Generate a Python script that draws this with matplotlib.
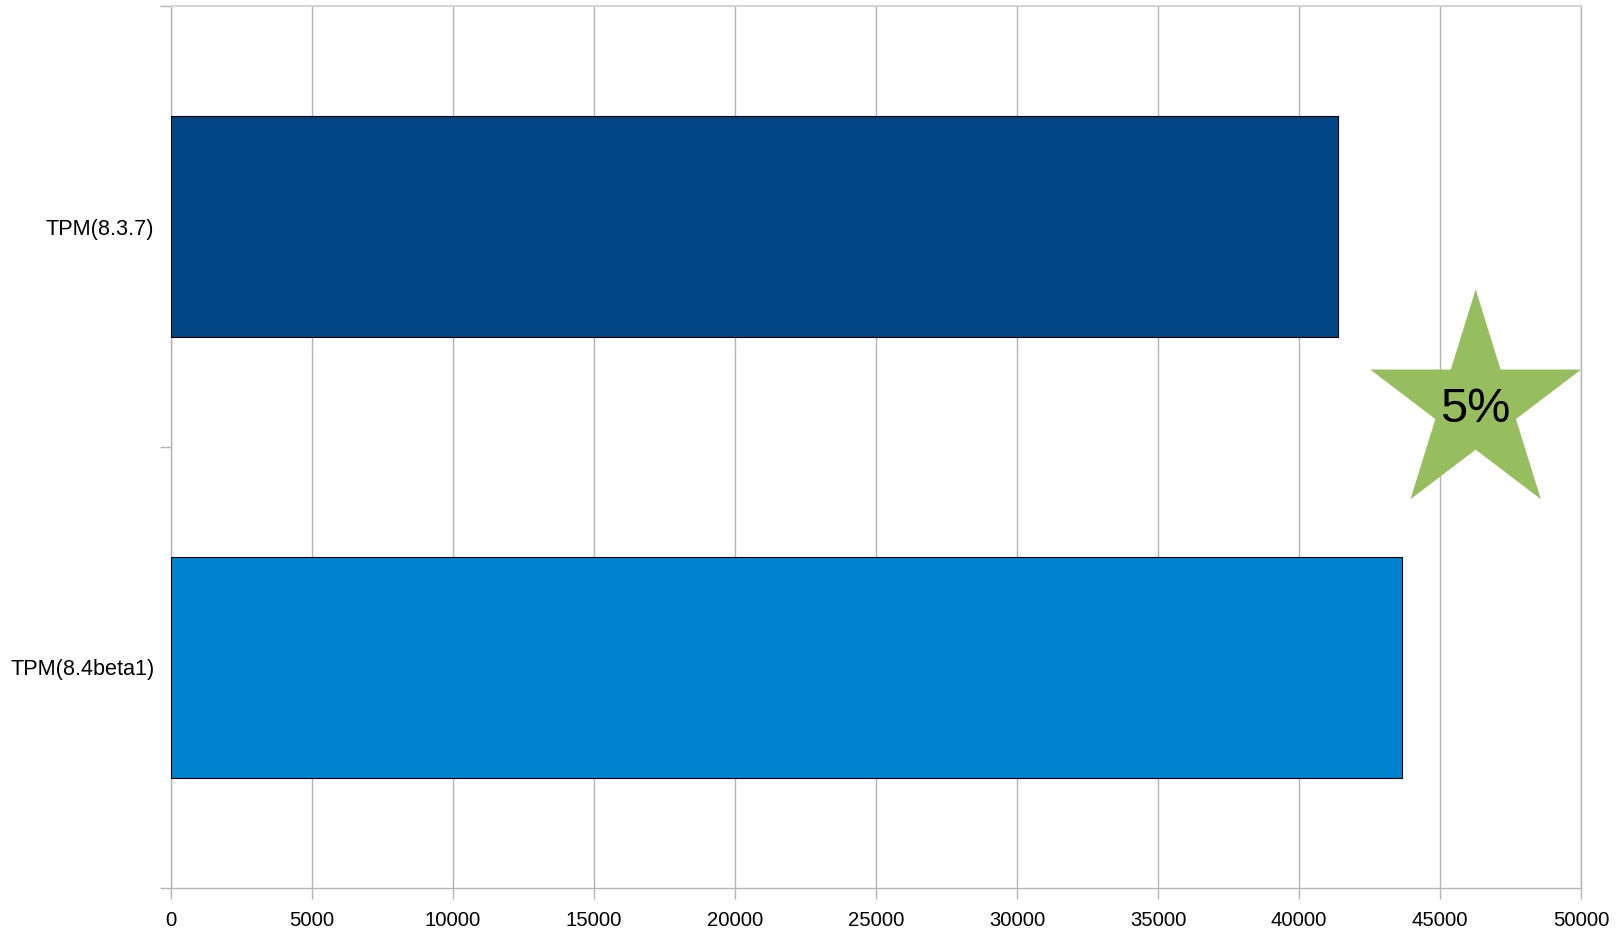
import numpy as np
import matplotlib
matplotlib.use("Agg")
import matplotlib.pyplot as plt
from matplotlib.patches import Polygon

plt.rcParams['font.family'] = ['Liberation Sans', 'DejaVu Sans']

# data
labels = ["TPM(8.3.7)", "TPM(8.4beta1)"]
tpm = [41370, 43650]
bar_colors = ["#004586", "#0084d1"]
x_ticks = [0, 5000, 10000, 15000, 20000, 25000, 30000, 35000, 40000, 45000, 50000]
badge_text = "5%"

grid_col = "#b3b3b3"

fig = plt.figure(figsize=(16.22, 9.31), dpi=100)
ax = fig.add_axes([171 / 1622, 43 / 931, 1410 / 1622, 882 / 931])

y = np.arange(len(labels))
ax.barh(y, tpm, height=0.5, color=bar_colors, edgecolor="black", linewidth=0.8, zorder=3)

ax.set_xlim(0, 50000)
ax.set_ylim(len(labels) - 0.5, -0.5)

ax.set_xticks(x_ticks)
ax.set_xticklabels([str(v) for v in x_ticks])
ax.set_yticks(y)
ax.set_yticklabels(labels)
ax.set_yticks(np.arange(len(labels) + 1) - 0.5, minor=True)

ax.grid(axis="x", color=grid_col, linewidth=1.0, zorder=0)
ax.set_axisbelow(True)

ax.tick_params(axis="x", which="major", length=8, width=1.0, color=grid_col,
               labelsize=14.6, pad=8.5, labelcolor="black")
ax.tick_params(axis="y", which="major", length=0, labelsize=15.6, pad=12, labelcolor="black")
ax.tick_params(axis="y", which="minor", length=8, width=1.0, color=grid_col)

for side in ["left", "bottom", "right"]:
    ax.spines[side].set_color(grid_col)
    ax.spines[side].set_linewidth(1.0)
ax.spines["top"].set_color("#d4d4d4")
ax.spines["top"].set_linewidth(1.4)

# green star badge
cx, cy = 0.9253, 0.5472
rx, ry = 110.9 / 1410, 116 / 882
pts = []
for k in range(10):
    ang = np.pi / 2 + k * np.pi / 5
    r = 1.0 if k % 2 == 0 else 0.382
    pts.append((cx + rx * r * np.cos(ang), cy + ry * r * np.sin(ang)))
star = Polygon(pts, closed=True, transform=ax.transAxes, facecolor="#97be5e",
               edgecolor="none", zorder=4, clip_on=False)
ax.add_patch(star)
ax.text(cx, 0.5287, badge_text, transform=ax.transAxes, ha="center", va="baseline",
        fontsize=35, color="black", zorder=5)

fig.savefig("out.png", dpi=100)
